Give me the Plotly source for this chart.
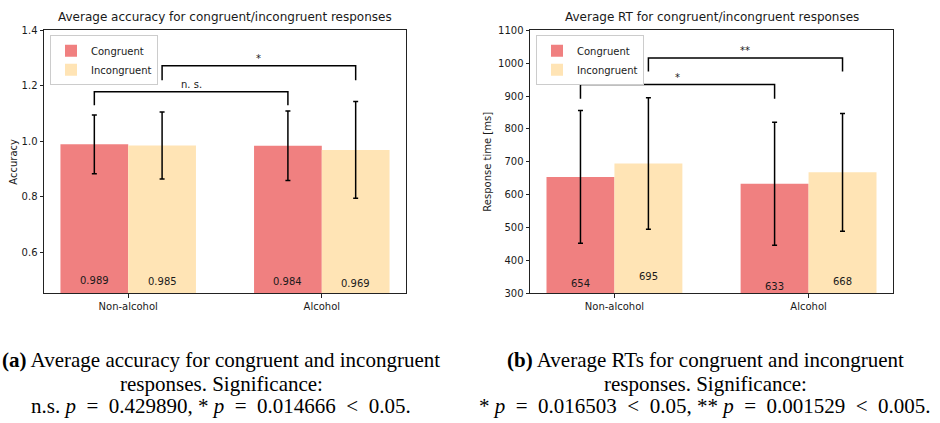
import plotly.graph_objects as go

# ---------------- data ----------------
groups = ["Non-alcohol", "Alcohol"]
series_names = ["Congruent", "Incongruent"]

acc_congruent = [0.989, 0.984]
acc_incongruent = [0.985, 0.969]
acc_err_congruent = [0.106, 0.125]
acc_err_incongruent = [0.121, 0.174]

rt_congruent = [654, 633]
rt_incongruent = [695, 668]
rt_err_congruent = [202, 187]
rt_err_incongruent = [200, 179]

acc_yticks = [0.6, 0.8, 1.0, 1.2, 1.4]
rt_yticks = [300, 400, 500, 600, 700, 800, 900, 1000, 1100]

# significance brackets: (from group, from series, to group, to series, line y, leg bottom, label)
acc_brackets = [
    (0, 0, 1, 0, 1.179, 1.130, "n. s."),
    (0, 1, 1, 1, 1.272, 1.220, "*"),
]
rt_brackets = [
    (0, 0, 1, 0, 935, 892, "*"),
    (0, 1, 1, 1, 1016, 975, "**"),
]

EQ = " &nbsp;= &nbsp;"
LT = " &nbsp;&lt; &nbsp;"
captions_a = [
    "<b>(a)</b> Average accuracy for congruent and incongruent",
    "responses. Significance:",
    "n.s. <i>p</i>" + EQ + "0.429890, * <i>p</i>" + EQ + "0.014666" + LT + "0.05.",
]
captions_b = [
    "<b>(b)</b> Average RTs for congruent and incongruent",
    "responses. Significance:",
    "* <i>p</i>" + EQ + "0.016503" + LT + "0.05, ** <i>p</i>" + EQ + "0.001529" + LT + "0.005.",
]

# ---------------- style ----------------
W, H = 940, 423
COL = ["#F08080", "#FFE4B5"]
BAR_W = 0.35
FONT = "DejaVu Sans"
SERIF = "Liberation Serif"
TXT = "#1a1a1a"

def px_x(p):
    return p / W

def px_y(p):
    return 1 - p / H

dom1 = [px_x(44), px_x(406)]
dom2 = [px_x(530), px_x(893)]
ydom = [px_y(296), px_y(26)]

fig = go.Figure()

offsets = [-BAR_W, 0.0]
centers = [-BAR_W / 2, BAR_W / 2]
xs = list(range(len(groups)))

def add_panel(xa, ya, legend, vals, errs):
    for s in range(2):
        fig.add_trace(go.Bar(
            x=xs, y=vals[s], width=BAR_W, offset=offsets[s],
            marker=dict(color=COL[s], line=dict(width=0)),
            error_y=dict(type="data", array=errs[s], color="black",
                         thickness=1.5, width=2.5),
            name=series_names[s], xaxis=xa, yaxis=ya, legend=legend,
        ))

add_panel("x", "y", "legend", [acc_congruent, acc_incongruent],
          [acc_err_congruent, acc_err_incongruent])
add_panel("x2", "y2", "legend2", [rt_congruent, rt_incongruent],
          [rt_err_congruent, rt_err_incongruent])

annotations = []

def add_value_labels(xref, yref, vals, fmt):
    for s in range(2):
        for g in xs:
            v = vals[s][g]
            annotations.append(dict(
                x=g + centers[s], y=v / 2, xref=xref, yref=yref,
                text=fmt.format(v), showarrow=False, xanchor="center", yanchor="middle",
                yshift=1, font=dict(family=FONT, size=10, color=TXT)))

add_value_labels("x", "y", [acc_congruent, acc_incongruent], "{:.3f}")
add_value_labels("x2", "y2", [rt_congruent, rt_incongruent], "{:d}")

def add_brackets(xa, ya, xref, yref, brackets):
    for (g0, s0, g1, s1, yl, yb, lab) in brackets:
        x0 = g0 + centers[s0]
        x1 = g1 + centers[s1]
        fig.add_trace(go.Scatter(
            x=[x0, x0, x1, x1], y=[yb, yl, yl, yb], mode="lines",
            line=dict(color="black", width=1.5), showlegend=False,
            hoverinfo="skip", xaxis=xa, yaxis=ya))
        annotations.append(dict(
            x=(x0 + x1) / 2, y=yl, xref=xref, yref=yref, text=lab,
            showarrow=False, xanchor="center", yanchor="bottom", yshift=0,
            font=dict(family=FONT, size=10, color=TXT)))

add_brackets("x", "y", "x", "y", acc_brackets)
add_brackets("x2", "y2", "x2", "y2", rt_brackets)

# subplot titles
annotations.append(dict(x=(dom1[0] + dom1[1]) / 2, y=ydom[1], xref="paper", yref="paper",
                        text="Average accuracy for congruent/incongruent responses",
                        showarrow=False, xanchor="center", yanchor="bottom", yshift=4,
                        font=dict(family=FONT, size=12, color=TXT)))
annotations.append(dict(x=(dom2[0] + dom2[1]) / 2, y=ydom[1], xref="paper", yref="paper",
                        text="Average RT for congruent/incongruent responses",
                        showarrow=False, xanchor="center", yanchor="bottom", yshift=4,
                        font=dict(family=FONT, size=12, color=TXT)))

# captions
cap_y = [364, 389, 412]
for cx, lines in ((221, captions_a), (705, captions_b)):
    for ly, t in zip(cap_y, lines):
        annotations.append(dict(x=px_x(cx), y=px_y(ly), xref="paper", yref="paper",
                                text=t, showarrow=False, xanchor="center", yanchor="middle",
                                font=dict(family=SERIF, size=21, color="black")))

axis_common = dict(showline=True, linecolor="#222222", linewidth=1, mirror=True,
                   ticks="outside", ticklen=3.5, tickcolor="#222222", tickwidth=1,
                   showgrid=False, zeroline=False,
                   tickfont=dict(family=FONT, size=10, color=TXT))

fig.update_layout(
    width=W, height=H, margin=dict(l=0, r=0, t=0, b=0),
    paper_bgcolor="white", plot_bgcolor="white",
    showlegend=True,
    xaxis=dict(domain=dom1, anchor="y", range=[-0.435, 1.435], tickvals=xs,
               ticktext=groups, **axis_common),
    yaxis=dict(domain=ydom, anchor="x", range=[0.452, 1.4], tickvals=acc_yticks,
               tickformat=".1f",
               title=dict(text="Accuracy", standoff=2,
                          font=dict(family=FONT, size=10, color=TXT)),
               **axis_common),
    xaxis2=dict(domain=dom2, anchor="y2", range=[-0.435, 1.435], tickvals=xs,
                ticktext=groups, **axis_common),
    yaxis2=dict(domain=ydom, anchor="x2", range=[300, 1100], tickvals=rt_yticks,
                title=dict(text="Response time [ms]", standoff=4,
                           font=dict(family=FONT, size=10, color=TXT)),
                **axis_common),
    legend=dict(x=px_x(50), y=px_y(31), xanchor="left", yanchor="top",
                bgcolor="white", bordercolor="#cccccc", borderwidth=1,
                font=dict(family=FONT, size=10, color=TXT), tracegroupgap=0),
    legend2=dict(x=px_x(536), y=px_y(31), xanchor="left", yanchor="top",
                 bgcolor="white", bordercolor="#cccccc", borderwidth=1,
                 font=dict(family=FONT, size=10, color=TXT), tracegroupgap=0),
    annotations=annotations,
)

fig.write_html("out.html")
